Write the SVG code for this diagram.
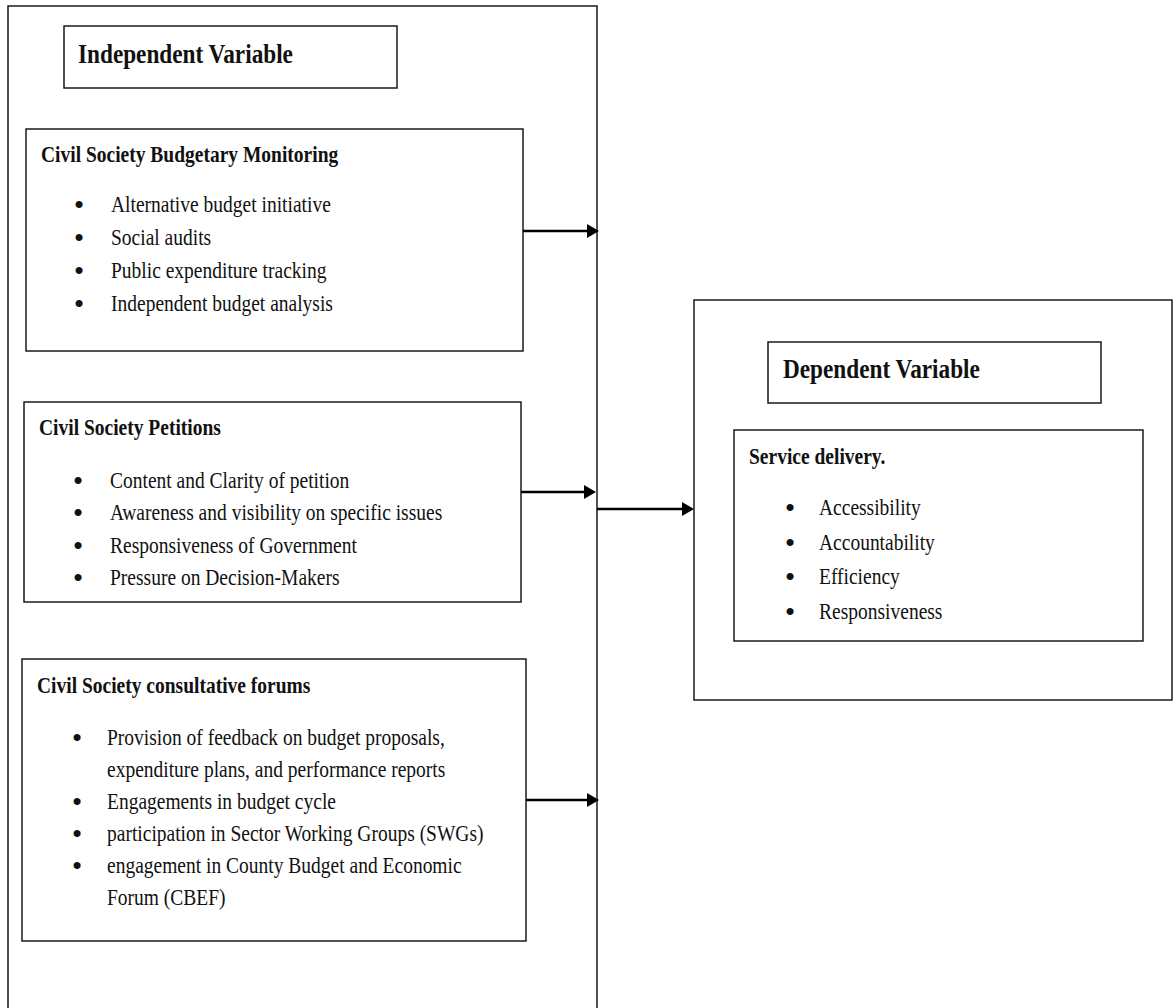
<svg xmlns="http://www.w3.org/2000/svg" width="1174" height="1008" viewBox="0 0 1174 1008">
<style>
.box{fill:#fff;stroke:#1a1a1a;stroke-width:1.5}
.frame{fill:none;stroke:#1a1a1a;stroke-width:1.5}
.conn{fill:none;stroke:#000;stroke-width:2.6}
text{font-family:"Liberation Serif","Times New Roman",serif;fill:#111}
.hd{font-size:28px;font-weight:bold}
.ti{font-size:24px;font-weight:bold}
.it{font-size:24px}
.bu{font-size:26px;font-weight:bold;text-anchor:middle}
</style>
<defs>
<marker id="ah" viewBox="0 0 12 14" refX="6" refY="7" markerWidth="12" markerHeight="14" markerUnits="userSpaceOnUse" orient="auto">
<path d="M0,0 L12,7 L0,14 z" fill="#000"/>
</marker>
</defs>
<rect width="1174" height="1008" fill="#fff"/>

<g id="independent-frame">
<path class="frame" d="M8,1012 V6 H597 V1012"/>
</g>

<g id="independent-label">
<rect class="box" x="64" y="26" width="333" height="62"/>
<text class="hd" transform="translate(78,63) scale(0.83,1)">Independent Variable</text>
</g>

<g id="budgetary-monitoring">
<rect class="box" x="26" y="129" width="497" height="222"/>
<text class="ti" transform="translate(41,162) scale(0.8125,1)">Civil Society Budgetary Monitoring</text>
<text class="bu" x="79" y="213">•</text>
<text class="it" transform="translate(111,212) scale(0.8125,1)">Alternative budget initiative</text>
<text class="bu" x="79" y="246">•</text>
<text class="it" transform="translate(111,245) scale(0.8125,1)">Social audits</text>
<text class="bu" x="79" y="279">•</text>
<text class="it" transform="translate(111,278) scale(0.8125,1)">Public expenditure tracking</text>
<text class="bu" x="79" y="312">•</text>
<text class="it" transform="translate(111,311) scale(0.8125,1)">Independent budget analysis</text>
</g>

<g id="petitions">
<rect class="box" x="24" y="402" width="497" height="200"/>
<text class="ti" transform="translate(39,435) scale(0.8125,1)">Civil Society Petitions</text>
<text class="bu" x="78" y="489">•</text>
<text class="it" transform="translate(110,488) scale(0.8125,1)">Content and Clarity of petition</text>
<text class="bu" x="78" y="521">•</text>
<text class="it" transform="translate(110,520) scale(0.8125,1)">Awareness and visibility on specific issues</text>
<text class="bu" x="78" y="554">•</text>
<text class="it" transform="translate(110,553) scale(0.8125,1)">Responsiveness of Government</text>
<text class="bu" x="78" y="586">•</text>
<text class="it" transform="translate(110,585) scale(0.8125,1)">Pressure on Decision-Makers</text>
</g>

<g id="consultative-forums">
<rect class="box" x="22" y="659" width="504" height="282"/>
<text class="ti" transform="translate(37,693) scale(0.8125,1)">Civil Society consultative forums</text>
<text class="bu" x="77" y="746">•</text>
<text class="it" transform="translate(107,745) scale(0.8125,1)">Provision of feedback on budget proposals,</text>
<text class="it" transform="translate(107,777) scale(0.8125,1)">expenditure plans, and performance reports</text>
<text class="bu" x="77" y="810">•</text>
<text class="it" transform="translate(107,809) scale(0.8125,1)">Engagements in budget cycle</text>
<text class="bu" x="77" y="842">•</text>
<text class="it" transform="translate(107,841) scale(0.8125,1)">participation in Sector Working Groups (SWGs)</text>
<text class="bu" x="77" y="874">•</text>
<text class="it" transform="translate(107,873) scale(0.8125,1)">engagement in County Budget and Economic</text>
<text class="it" transform="translate(107,905) scale(0.8125,1)">Forum (CBEF)</text>
</g>

<g id="dependent-frame">
<rect class="box" x="694" y="300" width="478" height="400"/>
</g>

<g id="dependent-label">
<rect class="box" x="768" y="342" width="333" height="61"/>
<text class="hd" transform="translate(783,378) scale(0.83,1)">Dependent Variable</text>
</g>

<g id="service-delivery">
<rect class="box" x="734" y="430" width="409" height="211"/>
<text class="ti" transform="translate(749,464) scale(0.8125,1)">Service delivery.</text>
<text class="bu" x="790" y="516">•</text>
<text class="it" transform="translate(819,515) scale(0.8125,1)">Accessibility</text>
<text class="bu" x="790" y="551">•</text>
<text class="it" transform="translate(819,550) scale(0.8125,1)">Accountability</text>
<text class="bu" x="790" y="585">•</text>
<text class="it" transform="translate(819,584) scale(0.8125,1)">Efficiency</text>
<text class="bu" x="790" y="620">•</text>
<text class="it" transform="translate(819,619) scale(0.8125,1)">Responsiveness</text>
</g>

<g id="connectors">
<line class="conn" x1="523" y1="231" x2="593" y2="231" marker-end="url(#ah)"/>
<line class="conn" x1="521" y1="492" x2="590" y2="492" marker-end="url(#ah)"/>
<line class="conn" x1="526" y1="800" x2="593" y2="800" marker-end="url(#ah)"/>
<line class="conn" x1="597" y1="509" x2="688" y2="509" marker-end="url(#ah)"/>
</g>
</svg>
